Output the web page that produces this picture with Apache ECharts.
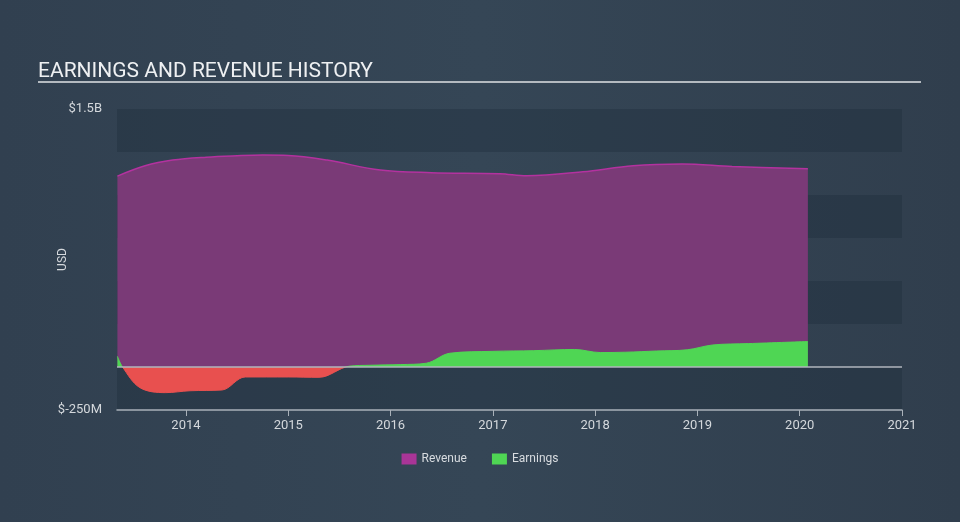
<!DOCTYPE html>
<html>
<head>
<meta charset="utf-8">
<script src="https://cdn.jsdelivr.net/npm/echarts@6/dist/echarts.min.js"></script>
<style>
html,body{margin:0;padding:0;width:960px;height:522px;background:linear-gradient(90deg,#314050 0%,#354656 50%,#303e4d 100%);}
#c{width:960px;height:522px;}
</style>
</head>
<body>
<div id="c"></div>
<script>
const revenueX = [2013.33, 2013.6, 2013.87, 2014.2, 2014.5, 2014.75, 2015.0, 2015.38, 2015.9, 2016.4, 2017.07, 2017.33, 2017.88, 2018.37, 2018.85, 2019.34, 2020.08];
const revenueY = [1110, 1170, 1203, 1220, 1228, 1232, 1230, 1203, 1145, 1130, 1124, 1112, 1135, 1170, 1180, 1166, 1153];
const earningsX = [2013.33, 2013.38, 2013.55, 2013.8, 2014.04, 2014.35, 2014.58, 2015.0, 2015.3, 2015.6, 2015.8, 2016.1, 2016.35, 2016.58, 2017.0, 2017.4, 2017.8, 2018.05, 2018.3, 2018.6, 2018.9, 2019.15, 2019.5, 2020.08];
const earningsY = [62, 0, -120, -149, -138, -134, -58, -58, -60, 5, 10, 14, 22, 80, 91, 95, 102, 84, 86, 93, 100, 128, 136, 148];
const yearTicks = [2014, 2015, 2016, 2017, 2018, 2019, 2020, 2021];

const zip = (xs, ys) => xs.map((x, i) => [x, ys[i]]);

const chart = echarts.init(document.getElementById('c'), null, {renderer: 'canvas'});
chart.setOption({
  backgroundColor: 'transparent',
  animation: false,
  textStyle: {fontFamily: 'Roboto'},
  title: {
    text: 'EARNINGS AND REVENUE HISTORY',
    left: 33, top: 56,
    textStyle: {color: '#eef0f2', fontSize: 21, fontWeight: 'normal', fontFamily: 'Roboto'}
  },
  graphic: [{
    type: 'line', shape: {x1: 38, y1: 82, x2: 921, y2: 82},
    style: {stroke: '#b4bac0', lineWidth: 2}, silent: true
  }],
  legend: {
    bottom: 52, left: 'center',
    icon: 'rect', itemWidth: 15, itemHeight: 11, itemGap: 25,
    textStyle: {color: '#d8dce0', fontSize: 12},
    data: [{name: 'Revenue', itemStyle: {color: '#a93597'}}, {name: 'Earnings', itemStyle: {color: '#4fd654'}}]
  },
  grid: {left: 117, right: 58, top: 109, bottom: 112},
  xAxis: {
    type: 'value', min: 2013.326, max: 2021,
    splitLine: {show: false},
    axisLine: {onZero: false, lineStyle: {color: '#a9b1b9', width: 1.5}},
    axisTick: {show: true, customValues: yearTicks, length: 6, lineStyle: {color: '#a9b1b9'}},
    axisLabel: {customValues: yearTicks, color: '#d4d8dc', fontSize: 13, margin: 9, formatter: v => String(Math.round(v))}
  },
  yAxis: {
    type: 'value', min: -250, max: 1500, interval: 250,
    name: 'USD', nameLocation: 'middle', nameGap: 48, nameRotate: 90, nameMoveOverlap: false,
    nameTextStyle: {color: '#d4d8dc', fontSize: 12},
    axisLine: {show: false}, axisTick: {show: false},
    splitLine: {show: false},
    splitArea: {show: true, areaStyle: {color: ['rgba(30,42,56,0.35)', 'rgba(0,0,0,0)']}},
    axisLabel: {
      color: '#d4d8dc', fontSize: 13, margin: 15,
      formatter: v => v === 1500 ? '$1.5B' : (v === -250 ? '$-250M' : '')
    }
  },
  visualMap: {
    show: false, type: 'piecewise', seriesIndex: 1, dimension: 1,
    pieces: [{min: -10000, max: 0, color: '#e8504f'}, {min: 0, max: 10000, color: '#4fd654'}]
  },
  series: [
    {
      name: 'Revenue', type: 'line', smooth: 0.35, symbol: 'none',
      data: zip(revenueX, revenueY),
      lineStyle: {color: '#b3329f', width: 1.5},
      itemStyle: {color: '#a93597'},
      areaStyle: {color: '#7a3a77', opacity: 1},
      markLine: {
        silent: true, symbol: 'none', label: {show: false},
        lineStyle: {color: '#b0b6bc', width: 1.5, type: 'solid'},
        data: [{yAxis: 0}]
      },
      z: 2
    },
    {
      name: 'Earnings', type: 'line', smooth: 0.35, symbol: 'none',
      data: zip(earningsX, earningsY),
      lineStyle: {width: 1},
      itemStyle: {color: '#4fd654'},
      areaStyle: {opacity: 1},
      z: 3
    }
  ]
});
</script>
</body>
</html>
